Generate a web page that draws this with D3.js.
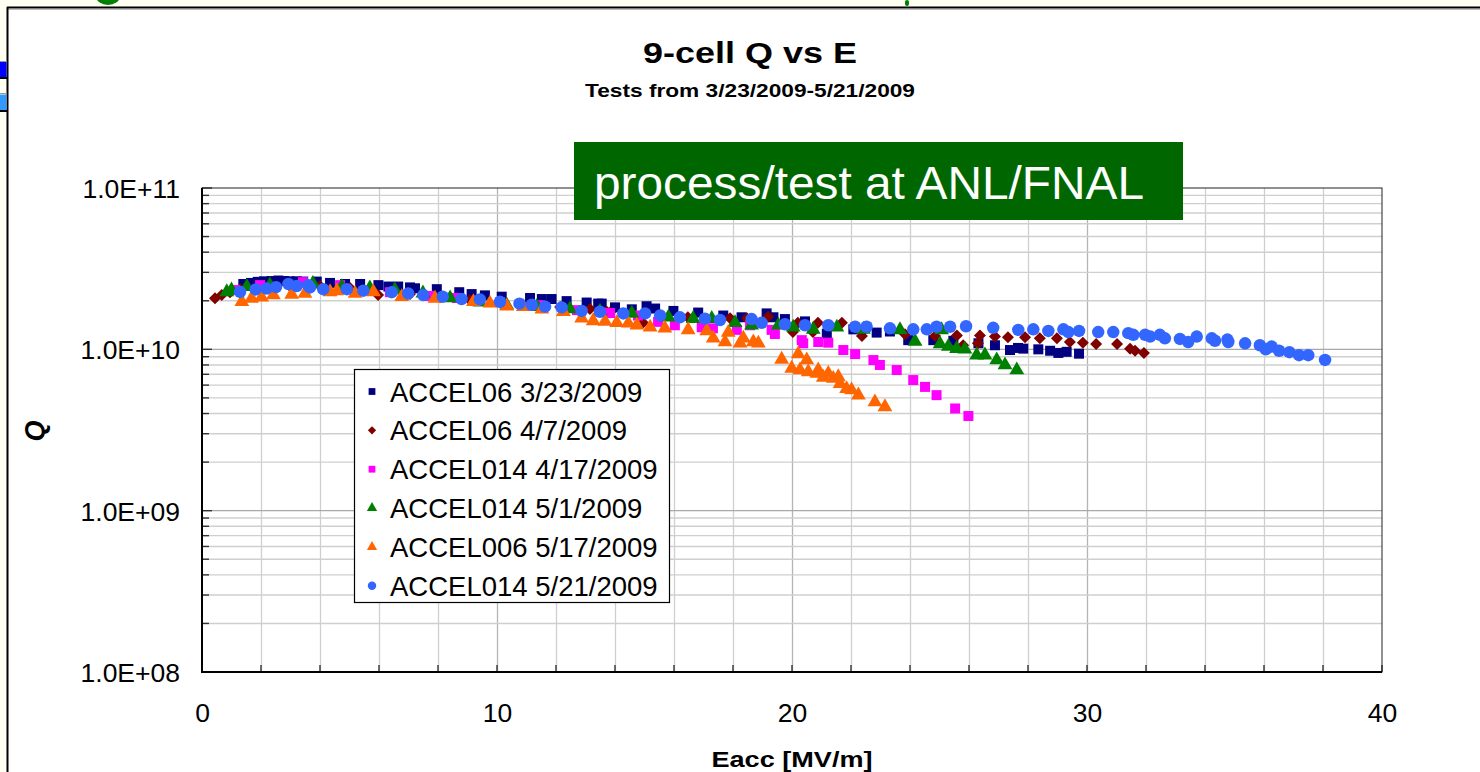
<!DOCTYPE html>
<html><head><meta charset="utf-8">
<script src="https://cdn.jsdelivr.net/npm/d3@7"></script>
<style>html,body{margin:0;padding:0;background:#fffff2;overflow:hidden}</style>
</head><body><svg id="c" width="1480" height="772"></svg>
<script>
// ---------- data ----------
const chartTitle = "9-cell Q vs E";
const chartSubtitle = "Tests from 3/23/2009-5/21/2009";
const xAxisTitle = "Eacc [MV/m]";
const yAxisTitle = "Q";
const boxLabel = "process/test at ANL/FNAL";

const seriesNames = ["ACCEL06 3/23/2009","ACCEL06 4/7/2009","ACCEL014 4/17/2009","ACCEL014 5/1/2009","ACCEL006 5/17/2009","ACCEL014 5/21/2009"];
const seriesColors = ["#000080","#800000","#ff00ff","#008000","#ff6600","#3366ff"];
const seriesShapes = ["square","diamond","square","triangle","triangle","circle"];

const accel06_0323 = [[1.40,2.54e10],[1.66,2.58e10],[1.89,2.62e10],[2.10,2.64e10],[2.36,2.65e10],[2.59,2.67e10],[2.78,2.65e10],[2.98,2.64e10],[3.21,2.64e10],[3.43,2.63e10],[3.89,2.63e10],[4.34,2.58e10],[4.85,2.54e10],[5.36,2.54e10],[5.98,2.50e10],[6.32,2.45e10],[6.65,2.45e10],[7.05,2.42e10],[7.22,2.39e10],[7.96,2.36e10],[8.72,2.26e10],[9.14,2.20e10],[9.59,2.16e10],[10.16,2.12e10],[11.12,2.08e10],[11.52,2.05e10],[11.85,2.05e10],[12.36,1.99e10],[13.04,1.95e10],[13.43,1.92e10],[13.55,1.92e10],[14.0,1.82e10],[14.57,1.77e10],[15.07,1.85e10],[15.36,1.79e10],[15.98,1.73e10],[16.82,1.69e10],[17.67,1.62e10],[18.29,1.58e10],[19.14,1.67e10],[19.37,1.58e10],[19.76,1.54e10],[20.44,1.49e10],[21.18,1.25e10],[22.08,1.33e10],[22.87,1.27e10],[23.32,1.29e10],[23.94,1.14e10],[24.79,1.14e10],[25.47,1.13e10],[26.32,1.09e10],[26.88,1.06e10],[27.39,9.9e9],[27.66,1.02e10],[27.84,1.01e10],[28.35,1.00e10],[28.75,9.8e9],[29.03,9.5e9],[29.31,9.65e9],[29.73,9.4e9]];
const accel06_0407 = [[0.44,2.07e10],[0.67,2.17e10],[0.95,2.26e10],[1.29,2.36e10],[1.97,2.43e10],[2.98,2.47e10],[4.0,2.47e10],[5.02,2.40e10],[5.97,2.17e10],[7.05,2.20e10],[8.07,2.10e10],[9.08,2.02e10],[10.1,1.96e10],[11.1,1.88e10],[12.14,1.83e10],[13.15,1.78e10],[13.72,1.71e10],[13.83,1.69e10],[14.95,1.46e10],[16.47,1.58e10],[17.9,1.56e10],[18.47,1.56e10],[19.19,1.59e10],[20.03,1.28e10],[20.2,1.46e10],[20.71,1.28e10],[20.88,1.46e10],[21.69,1.46e10],[22.37,1.21e10],[22.4,1.30e10],[23.83,1.24e10],[24.85,1.21e10],[25.59,1.22e10],[25.8,1.06e10],[26.37,1.22e10],[26.3,1.09e10],[26.88,1.20e10],[27.32,1.19e10],[27.9,1.19e10],[28.4,1.17e10],[28.98,1.17e10],[29.42,1.11e10],[29.86,1.10e10],[30.31,1.08e10],[31.02,1.08e10],[31.46,1.01e10],[31.63,9.8e9],[31.93,9.5e9]];
const accel014_0417 = [[1.12,2.33e10],[1.97,2.50e10],[3.42,2.61e10],[4.68,2.50e10],[6.37,2.26e10],[7.73,2.14e10],[8.64,2.08e10],[10.1,1.96e10],[11.46,1.88e10],[12.71,1.75e10],[13.83,1.68e10],[14.78,1.62e10],[15.46,1.48e10],[16.03,1.41e10],[16.94,1.37e10],[17.32,1.35e10],[18.13,1.32e10],[18.58,1.41e10],[19.31,1.32e10],[19.42,1.245e10],[20.33,1.14e10],[20.38,1.09e10],[20.89,1.11e10],[21.23,1.10e10],[21.74,9.9e9],[22.14,9.35e9],[22.76,8.58e9],[22.98,8.0e9],[23.55,7.44e9],[24.11,6.45e9],[24.51,5.85e9],[24.9,5.2e9],[25.53,4.3e9],[25.98,3.86e9]];
const accel014_0501 = [[0.84,2.27e10],[1.0,2.33e10],[1.52,2.44e10],[2.3,2.50e10],[3.76,2.56e10],[4.74,2.44e10],[5.69,2.40e10],[6.54,2.33e10],[7.49,2.23e10],[8.41,2.08e10],[9.42,1.96e10],[10.33,1.88e10],[11.35,1.84e10],[12.47,1.78e10],[13.49,1.72e10],[14.57,1.67e10],[15.81,1.58e10],[16.65,1.55e10],[17.28,1.55e10],[18.07,1.46e10],[18.63,1.41e10],[19.54,1.41e10],[20.04,1.37e10],[20.72,1.33e10],[21.52,1.37e10],[22.42,1.33e10],[23.66,1.32e10],[24.17,1.12e10],[25.07,1.32e10],[25.02,1.08e10],[25.3,1.04e10],[25.58,1.01e10],[25.86,1.00e10],[26.26,9.2e9],[26.54,9.2e9],[26.94,8.58e9],[27.22,8.0e9],[27.62,7.44e9]];
const accel006_0517 = [[1.35,1.97e10],[1.68,2.07e10],[2.02,2.10e10],[2.42,2.17e10],[3.04,2.19e10],[3.49,2.22e10],[4.34,2.27e10],[4.57,2.30e10],[5.19,2.22e10],[5.81,2.27e10],[6.77,2.12e10],[7.9,2.07e10],[9.2,1.97e10],[9.76,1.93e10],[10.33,1.85e10],[10.89,1.84e10],[11.52,1.77e10],[12.25,1.71e10],[12.87,1.56e10],[13.26,1.50e10],[13.66,1.49e10],[14.06,1.46e10],[14.45,1.45e10],[14.74,1.41e10],[15.19,1.37e10],[15.69,1.35e10],[16.48,1.32e10],[17.11,1.30e10],[17.33,1.17e10],[17.73,1.11e10],[17.84,1.27e10],[18.24,1.09e10],[18.35,1.17e10],[18.69,1.11e10],[18.86,1.09e10],[19.65,8.66e9],[19.99,7.62e9],[20.21,9.35e9],[20.27,7.44e9],[20.5,8.58e9],[20.55,7.25e9],[20.84,7.09e9],[20.89,7.44e9],[21.06,6.7e9],[21.23,7.09e9],[21.4,6.6e9],[21.57,6.75e9],[21.63,6.13e9],[21.85,5.7e9],[22.02,5.59e9],[22.25,5.2e9],[22.81,4.72e9],[23.15,4.4e9]];
const accel014_0521 = [[1.29,2.27e10],[1.82,2.35e10],[2.19,2.38e10],[2.51,2.43e10],[2.93,2.54e10],[3.21,2.47e10],[3.6,2.50e10],[3.66,2.42e10],[4.11,2.36e10],[4.91,2.36e10],[5.47,2.31e10],[6.43,2.26e10],[6.99,2.22e10],[7.5,2.17e10],[8.16,2.12e10],[8.8,2.05e10],[9.42,2.04e10],[10.1,1.97e10],[10.76,1.92e10],[11.18,1.89e10],[11.63,1.84e10],[12.19,1.82e10],[12.87,1.73e10],[13.49,1.71e10],[14.28,1.67e10],[15.02,1.67e10],[15.53,1.62e10],[16.2,1.58e10],[17.05,1.55e10],[17.56,1.52e10],[18.63,1.54e10],[18.97,1.46e10],[19.76,1.43e10],[20.44,1.41e10],[21.23,1.41e10],[22.14,1.38e10],[22.53,1.38e10],[23.32,1.35e10],[24.11,1.33e10],[24.57,1.33e10],[24.9,1.38e10],[25.36,1.38e10],[25.9,1.39e10],[26.82,1.36e10],[27.67,1.32e10],[28.18,1.33e10],[28.69,1.30e10],[29.2,1.33e10],[29.37,1.28e10],[29.73,1.30e10],[30.38,1.28e10],[30.89,1.28e10],[31.4,1.26e10],[31.57,1.23e10],[31.97,1.23e10],[32.14,1.20e10],[32.47,1.23e10],[32.64,1.17e10],[33.15,1.16e10],[33.43,1.11e10],[33.72,1.20e10],[34.23,1.17e10],[34.34,1.13e10],[34.76,1.15e10],[34.79,1.11e10],[35.36,1.09e10],[35.86,1.06e10],[36.06,1.00e10],[36.26,1.04e10],[36.51,9.8e9],[36.86,9.6e9],[37.19,9.2e9],[37.5,9.2e9],[38.07,8.6e9]];

const xTickValues = [0,10,20,30,40];
const xTickLabels = ["0","10","20","30","40"];
const yTickValues = [1e8,1e9,1e10,1e11];
const yTickLabels = ["1.0E+08","1.0E+09","1.0E+10","1.0E+11"];

const seriesData = [accel06_0323, accel06_0407, accel014_0417, accel014_0501, accel006_0517, accel014_0521];

// ---------- drawing ----------
const svg = d3.select("#c");
const W = 1480, H = 772;
const plot = {left:202, right:1382, top:188, bottom:672};

// page background and slide frame
svg.append("rect").attr("x",0).attr("y",0).attr("width",W).attr("height",H).attr("fill","#fffff2");
svg.append("rect").attr("x",8).attr("y",8).attr("width",W-8).attr("height",H-8).attr("fill","#ffffff");
svg.append("line").attr("x1",7).attr("x2",W).attr("y1",9.5).attr("y2",9.5).attr("stroke","#bbb").attr("stroke-width",1);
svg.append("line").attr("x1",7.5).attr("x2",7.5).attr("y1",7).attr("y2",H).attr("stroke","#000").attr("stroke-width",2);
// left slide decoration bars
svg.append("rect").attr("x",0).attr("y",62).attr("width",6.5).attr("height",15).attr("fill","#0000ff");
svg.append("line").attr("x1",0).attr("x2",7).attr("y1",78).attr("y2",78).attr("stroke","#000").attr("stroke-width",2);
svg.append("line").attr("x1",0).attr("x2",7).attr("y1",61.5).attr("y2",61.5).attr("stroke","#999").attr("stroke-width",1);
svg.append("rect").attr("x",0).attr("y",94.5).attr("width",6.5).attr("height",15.5).attr("fill","#3399ff");
svg.append("line").attr("x1",0).attr("x2",7).attr("y1",111).attr("y2",111).attr("stroke","#000").attr("stroke-width",2);
svg.append("line").attr("x1",0).attr("x2",7).attr("y1",93.5).attr("y2",93.5).attr("stroke","#999").attr("stroke-width",1);
// cut-off green slide heading fragments
svg.append("ellipse").attr("cx",108).attr("cy",-4).attr("rx",12).attr("ry",9).attr("fill","#008000");
svg.append("rect").attr("x",905).attr("y",0).attr("width",4).attr("height",6).attr("rx",2).attr("fill","#008000");
svg.append("line").attr("x1",7).attr("x2",W).attr("y1",7.5).attr("y2",7.5).attr("stroke","#000").attr("stroke-width",2);

const x = d3.scaleLinear().domain([0,40]).range([plot.left, plot.right]);
const y = d3.scaleLog().domain([1e8,1e11]).range([plot.bottom, plot.top]);

// gridlines
const g = svg.append("g");
const xGrid = d3.range(2, 40, 2);
g.selectAll(".vg").data(xGrid).join("line")
  .attr("x1",d=>x(d)+0.5).attr("x2",d=>x(d)+0.5).attr("y1",plot.top).attr("y2",plot.bottom)
  .attr("stroke", d => d%10===0 ? "#b4b4b4" : "#cfcfcf").attr("stroke-width",1.3);
const yGrid = [];
[1e8,1e9,1e10].forEach(dec => { for (let k=1;k<=9;k++) yGrid.push(dec*k); });
yGrid.shift();
g.selectAll(".hg").data(yGrid.filter(v=>v<1e11)).join("line")
  .attr("x1",plot.left).attr("x2",plot.right).attr("y1",d=>y(d)).attr("y2",d=>y(d))
  .attr("stroke", d => [1e9,1e10].includes(d) ? "#a8a8a8" : "#cfcfcf").attr("stroke-width",1.4);

// inner ticks
g.selectAll(".yt").data(yGrid.concat([1e11])).join("line")
  .attr("x1",plot.left).attr("x2",d => plot.left + ([1e9,1e10,1e11].includes(d) ? 10 : 7))
  .attr("y1",d=>y(d)).attr("y2",d=>y(d)).attr("stroke","#333").attr("stroke-width",1.4);
g.selectAll(".xt").data(d3.range(0,41,2)).join("line")
  .attr("x1",d=>x(d)).attr("x2",d=>x(d)).attr("y1",plot.bottom).attr("y2",plot.bottom-7)
  .attr("stroke","#333").attr("stroke-width",1.4);

// plot frame
svg.append("rect").attr("x",plot.left).attr("y",plot.top).attr("width",plot.right-plot.left).attr("height",plot.bottom-plot.top)
  .attr("fill","none").attr("stroke","#222").attr("stroke-width",1);
svg.append("line").attr("x1",plot.left).attr("x2",plot.left).attr("y1",plot.top).attr("y2",plot.bottom+1).attr("stroke","#000").attr("stroke-width",2);
svg.append("line").attr("x1",plot.left-1).attr("x2",plot.right).attr("y1",plot.bottom).attr("y2",plot.bottom).attr("stroke","#000").attr("stroke-width",2);

// axes labels (via d3 axes)
const yAxis = d3.axisLeft(y).tickValues(yTickValues).tickFormat((d,i)=>yTickLabels[i]).tickSize(0).tickPadding(22);
const ya = svg.append("g").attr("transform",`translate(${plot.left},0)`).call(yAxis);
ya.select(".domain").remove();
ya.selectAll("text").attr("font-family","Liberation Sans, Arial, sans-serif").attr("font-size",26.5).attr("fill","#000").attr("dy","0.36em");
const xAxis = d3.axisBottom(x).tickValues(xTickValues).tickFormat((d,i)=>xTickLabels[i]).tickSize(0).tickPadding(31);
const xa = svg.append("g").attr("transform",`translate(0,${plot.bottom})`).call(xAxis);
xa.select(".domain").remove();
xa.selectAll("text").attr("font-family","Liberation Sans, Arial, sans-serif").attr("font-size",26.5).attr("fill","#000");

// symbols
function sym(shape, big) {
  if (shape==="square") return {d: d3.symbol(d3.symbolSquare, big?100:46)(), rot:0};
  if (shape==="diamond") return {d: d3.symbol(d3.symbolSquare, big?72:34)(), rot:45};
  if (shape==="triangle") return {d: d3.symbol(d3.symbolTriangle, big?95:46)(), rot:0};
  return {d: d3.symbol(d3.symbolCircle, big?122:56)(), rot:0};
}

const marks = svg.append("g");
seriesData.forEach((data, si) => {
  const s = sym(seriesShapes[si], true);
  marks.append("g").selectAll("path").data(data).join("path")
    .attr("d", s.d)
    .attr("transform", d => `translate(${x(d[0])},${y(d[1])}) rotate(${s.rot})`)
    .attr("fill", seriesColors[si]);
});

// green label box
svg.append("rect").attr("x",574).attr("y",142).attr("width",609).attr("height",78).attr("fill","#006600");
svg.append("text").attr("x",594).attr("y",199).text(boxLabel)
  .attr("font-family","Liberation Sans, Arial, sans-serif").attr("font-size",46).attr("fill","#fff")
  .attr("textLength",550).attr("lengthAdjust","spacingAndGlyphs");

// legend
const lg = svg.append("g");
lg.append("rect").attr("x",354.5).attr("y",369.5).attr("width",315).attr("height",233).attr("fill","#fff").attr("stroke","#000").attr("stroke-width",1.2);
seriesNames.forEach((name, i) => {
  const cy = 391.5 + i*38.85;
  const s = sym(seriesShapes[i], false);
  lg.append("path").attr("d", s.d).attr("transform", `translate(372,${cy}) rotate(${s.rot})`).attr("fill", seriesColors[i]);
  lg.append("text").attr("x",390).attr("y",cy+10).text(name)
    .attr("font-family","Liberation Sans, Arial, sans-serif").attr("font-size",27.5).attr("fill","#000");
});

// titles
svg.append("text").attr("x",750).attr("y",63).attr("text-anchor","middle").text(chartTitle)
  .attr("font-family","Liberation Sans, Arial, sans-serif").attr("font-weight","bold").attr("font-size",29)
  .attr("textLength",214).attr("lengthAdjust","spacingAndGlyphs");
svg.append("text").attr("x",750).attr("y",97).attr("text-anchor","middle").text(chartSubtitle)
  .attr("font-family","Liberation Sans, Arial, sans-serif").attr("font-weight","bold").attr("font-size",19)
  .attr("textLength",330).attr("lengthAdjust","spacingAndGlyphs");
svg.append("text").attr("x",x(20)).attr("y",767).attr("text-anchor","middle").text(xAxisTitle)
  .attr("font-family","Liberation Sans, Arial, sans-serif").attr("font-weight","bold").attr("font-size",22)
  .attr("textLength",161).attr("lengthAdjust","spacingAndGlyphs");
svg.append("text").attr("transform","translate(44,431) rotate(-90)").attr("text-anchor","middle").text(yAxisTitle)
  .attr("font-family","Liberation Sans, Arial, sans-serif").attr("font-weight","bold").attr("font-style","italic").attr("font-size",27);
</script></body></html>
